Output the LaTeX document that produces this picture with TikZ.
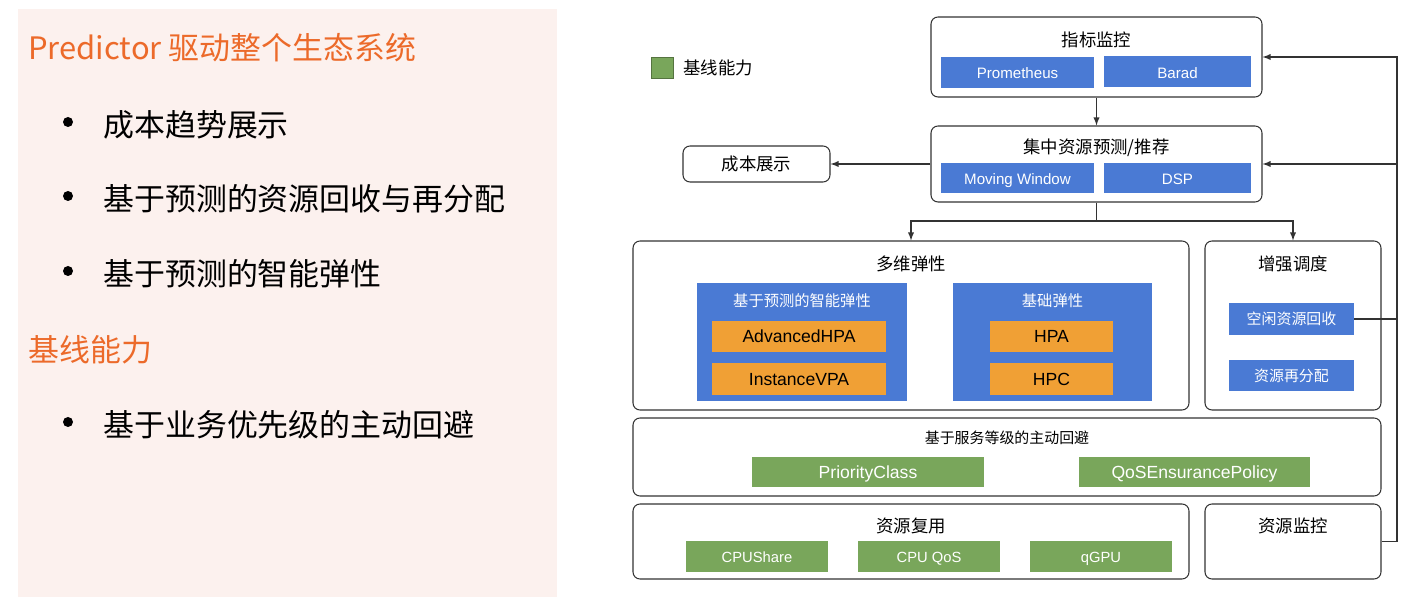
\documentclass[tikz,border=0pt]{standalone}
\usepackage{fontspec}
\setmainfont{Liberation Sans}
\newfontfamily\cjk{Noto Sans CJK SC}
\usetikzlibrary{positioning}

\definecolor{bgpink}{HTML}{FCF1EE}
\definecolor{hlorange}{HTML}{EC6A2A}
\definecolor{boxblue}{HTML}{4A7AD4}
\definecolor{boxorange}{HTML}{F0A035}
\definecolor{boxgreen}{HTML}{79A65B}
\definecolor{linegray}{HTML}{333333}

\tikzset{
    sz/.style 2 args={minimum width=#1*0.02cm, minimum height=#2*0.02cm},
    frame/.style={draw=linegray, line width=0.6pt, rounded corners=4pt, fill=white, inner sep=0pt},
    latin/.style={text height=0.72em, text depth=0pt},
    bluebox/.style={fill=boxblue, text=white, inner sep=0pt, font=\fontsize{8.6}{10}\selectfont},
    orangebox/.style={fill=boxorange, text=black, inner sep=0pt, latin, font=\fontsize{10}{12}\selectfont},
    greenbox/.style={fill=boxgreen, text=white, inner sep=0pt, latin, font=\fontsize{10}{12}\selectfont},
    ttl/.style={inner sep=0pt, font=\cjk\fontsize{9.9}{12}\selectfont},
    conn/.style={draw=linegray, line width=0.6pt},
    big/.style={anchor=west, inner sep=0pt, font=\cjk\fontsize{17.6}{20}\selectfont},
    dot/.style={circle, fill=black, inner sep=0pt, minimum size=10*0.02cm}
}

\begin{document}
\begin{tikzpicture}[x=0.02cm, y=-0.02cm]
    \useasboundingbox (0,0) rectangle (1417,597);

    % left panel
    \fill[bgpink] (18,9) rectangle (557,597);
    \node[big, text=hlorange] (head1) at (28,48) {Predictor 驱动整个生态系统};
    \node[dot] (d1) at (68,122) {};
    \node[big] (it1) at (103,125) {成本趋势展示};
    \node[dot] (d2) at (68,196) {};
    \node[big] (it2) at (103,199) {基于预测的资源回收与再分配};
    \node[dot] (d3) at (68,271) {};
    \node[big] (it3) at (103,274) {基于预测的智能弹性};
    \node[big, text=hlorange] (head2) at (28,350) {基线能力};
    \node[dot] (d4) at (68,422) {};
    \node[big] (it4) at (103,425) {基于业务优先级的主动回避};

    % legend
    \node[fill=boxgreen, draw=boxgreen!70!black, line width=0.4pt, sz={22}{21}, inner sep=0pt] (lgbox) at (662,67.5) {};
    \node[ttl, anchor=west] (lgtext) at (683,68) {基线能力};

    % 指标监控
    \node[frame, sz={331}{80}] (jbjk) at (1096.5,57) {};
    \node[ttl] (jbjkt) at (1096.5,40) {指标监控};
    \node[bluebox, latin, sz={153}{31}] (prom) at (1017.5,72.5) {Prometheus};
    \node[bluebox, latin, sz={147}{31}] (barad) at (1177.5,72) {Barad};

    % 集中资源预测/推荐
    \node[frame, sz={331}{76}] (jzyc) at (1096.5,164) {};
    \node[ttl] (jzyct) at (1096.5,148) {集中资源预测/推荐};
    \node[bluebox, latin, sz={153}{30}] (mw) at (1017.5,178) {Moving Window};
    \node[bluebox, latin, sz={147}{30}] (dsp) at (1177.5,178) {DSP};

    % 成本展示
    \node[frame, sz={147}{36}, font=\cjk\fontsize{9.9}{12}\selectfont] (cbzs) at (756.5,164) {成本展示};

    % 多维弹性
    \node[frame, sz={556}{169}] (dwtx) at (911,325.5) {};
    \node[ttl] (dwtxt) at (911,264) {多维弹性};
    \node[fill=boxblue, sz={210}{118}, inner sep=0pt] (zntx) at (802,342) {};
    \node[ttl, text=white, font=\cjk\fontsize{8.7}{10}\selectfont] (zntxt) at (802,301) {基于预测的智能弹性};
    \node[orangebox, sz={174}{31}] (ahpa) at (799,336.5) {AdvancedHPA};
    \node[orangebox, sz={174}{32}] (ivpa) at (799,379) {InstanceVPA};
    \node[fill=boxblue, sz={199}{118}, inner sep=0pt] (jctx) at (1052.5,342) {};
    \node[ttl, text=white, font=\cjk\fontsize{8.7}{10}\selectfont] (jctxt) at (1052.5,301) {基础弹性};
    \node[orangebox, sz={123}{31}] (hpa) at (1051.5,336.5) {HPA};
    \node[orangebox, sz={123}{32}] (hpc) at (1051.5,379) {HPC};

    % 增强调度
    \node[frame, sz={176}{169}] (zqdd) at (1293,325.5) {};
    \node[ttl] (zqddt) at (1293,264) {增强调度};
    \node[bluebox, sz={125}{32}, font=\cjk\fontsize{8.5}{10}\selectfont] (kxhs) at (1291.5,319) {空闲资源回收};
    \node[bluebox, sz={125}{31}, font=\cjk\fontsize{8.5}{10}\selectfont] (zyfp) at (1291.5,375.5) {资源再分配};

    % 主动回避
    \node[frame, sz={748}{78}] (zdhb) at (1007,457) {};
    \node[ttl, font=\cjk\fontsize{8.5}{10}\selectfont] (zdhbt) at (1007,438) {基于服务等级的主动回避};
    \node[greenbox, sz={232}{30}] (pc) at (868,472) {PriorityClass};
    \node[greenbox, sz={231}{30}] (qos) at (1194.5,472) {QoSEnsurancePolicy};

    % 资源复用
    \node[frame, sz={556}{75}] (zyfy) at (911,541.5) {};
    \node[ttl] (zyfyt) at (911,526) {资源复用};
    \node[greenbox, sz={142}{31}, font=\fontsize{8.4}{10}\selectfont] (cpus) at (757,556.5) {CPUShare};
    \node[greenbox, sz={142}{31}, font=\fontsize{8.4}{10}\selectfont] (cpuq) at (929,556.5) {CPU QoS};
    \node[greenbox, sz={142}{31}, font=\fontsize{8.4}{10}\selectfont] (qgpu) at (1101,556.5) {qGPU};

    % 资源监控
    \node[frame, sz={176}{75}] (zyjk) at (1293,541.5) {};
    \node[ttl] (zyjkt) at (1293,526) {资源监控};

    % connectors
    \coordinate (split) at (1096.5,221);
    \coordinate (rail) at (1397,57);
    \draw[conn, -latex] (jbjk.south) -- (jzyc.north);
    \draw[conn, -latex] (jzyc.west) -- (cbzs.east);
    \draw[conn, -latex] (jzyc.south) -- (split) -| (dwtx.north);
    \draw[conn, -latex] (split) -| (zqdd.north);
    \draw[conn, -latex] (zyjk.east) -| (rail) -- (jbjk.east);
    \draw[conn] (kxhs.east) -- (kxhs.east -| rail);
    \draw[conn, -latex] (jzyc.east -| rail) -- (jzyc.east);
\end{tikzpicture}
\end{document}
